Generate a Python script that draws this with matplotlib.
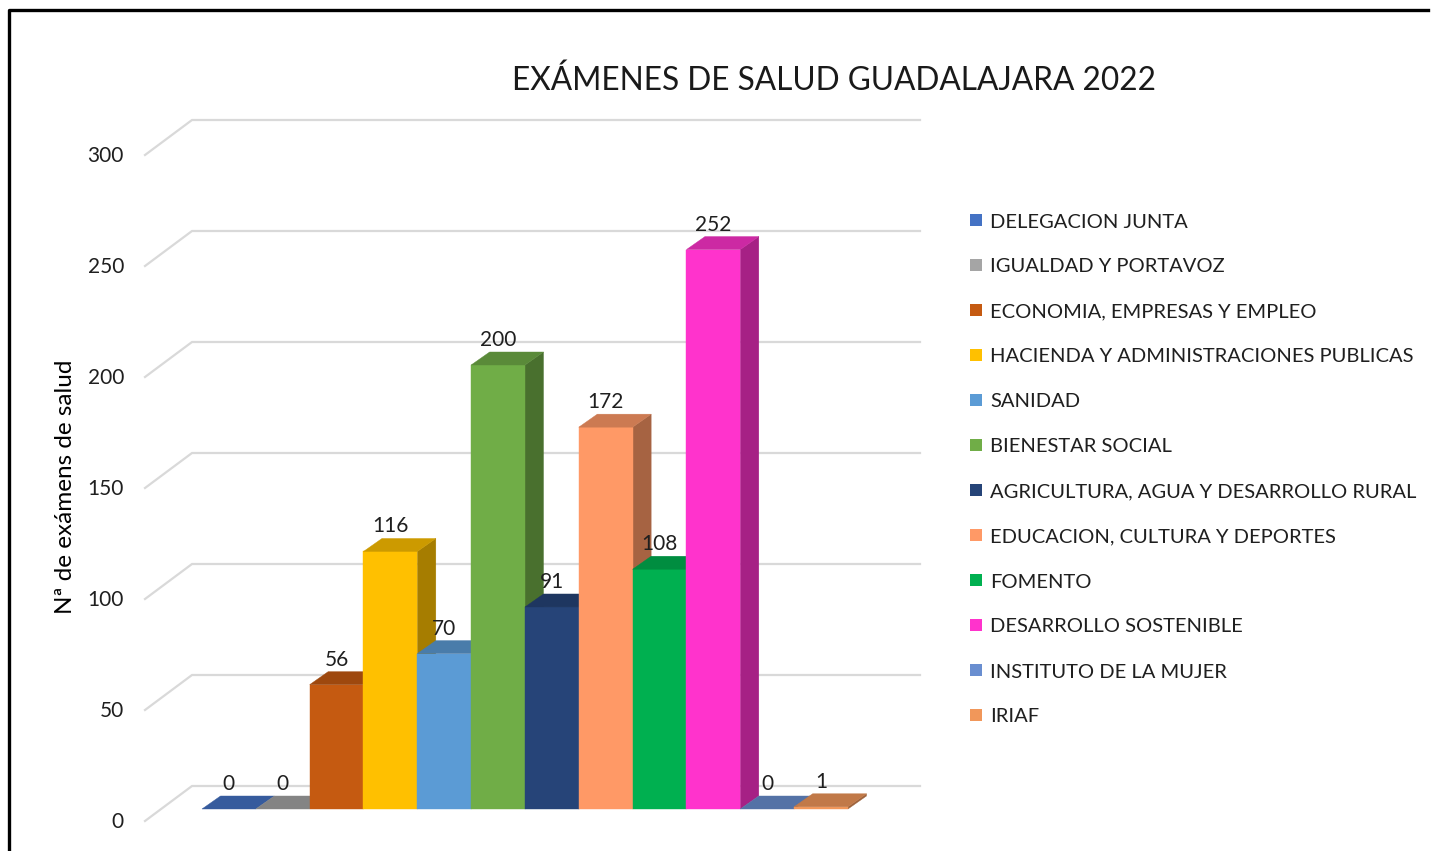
import matplotlib
matplotlib.use('Agg')
import matplotlib.pyplot as plt
from matplotlib.patches import Polygon, Rectangle
from matplotlib.lines import Line2D
import matplotlib.colors as mcolors
import numpy as np

plt.rcParams['font.family'] = ['Lato', 'DejaVu Sans']

# ---------------- data ----------------
title = 'EXÁMENES DE SALUD GUADALAJARA 2022'
ylabel = 'Nª de exámens de salud'
categories = [
    'DELEGACION JUNTA',
    'IGUALDAD Y PORTAVOZ',
    'ECONOMIA, EMPRESAS Y EMPLEO',
    'HACIENDA Y ADMINISTRACIONES PUBLICAS',
    'SANIDAD',
    'BIENESTAR SOCIAL',
    'AGRICULTURA, AGUA Y DESARROLLO RURAL',
    'EDUCACION, CULTURA Y DEPORTES',
    'FOMENTO',
    'DESARROLLO SOSTENIBLE',
    'INSTITUTO DE LA MUJER',
    'IRIAF',
]
values = [0, 0, 56, 116, 70, 200, 91, 172, 108, 252, 0, 1]
colors = ['#4472C4', '#A5A5A5', '#C55A11', '#FFC000', '#5B9BD5', '#70AD47',
          '#264478', '#FF9966', '#00B050', '#FF33CC', '#698ED0', '#F1975A']
yticks = [0, 50, 100, 150, 200, 250, 300]

# ---------------- layout (pixels) ----------------
W, H = 1431, 851
fig = plt.figure(figsize=(W / 100, H / 100), dpi=100)
ax = fig.add_axes([0, 0, 1, 1])
x0_px, cat_px = 202.0, 53.83      # front-left of first bar, width of a bar
base_px, unit_px = 809.0, 2.22    # front baseline, pixels per unit value
ax.set_xlim(-x0_px / cat_px, (W - x0_px) / cat_px)
ax.set_ylim((base_px - H) / unit_px, base_px / unit_px)
ax.axis('off')

# depth offsets in data units
bdx, bdy = 18.5 / cat_px, 13.0 / unit_px           # bar depth
floor_front_x, floor_front_dy = (145 - x0_px) / cat_px, -(821 - base_px) / unit_px
floor_back_x, floor_back_dy = (192 - x0_px) / cat_px, (base_px - 786) / unit_px
wall_end_x = (920 - x0_px) / cat_px

def shade(c, f):
    r, g, b = mcolors.to_rgb(c)
    return (r * f, g * f, b * f)

# gridlines (floor/back wall)
for v in yticks:
    ax.plot([floor_front_x, floor_back_x, wall_end_x],
            [v + floor_front_dy, v + floor_back_dy, v + floor_back_dy],
            color='#D9D9D9', lw=1.6, zorder=1, solid_joinstyle='miter')
    ax.text((124 - x0_px) / cat_px, v + floor_front_dy - 0.6, f'{v}',
            ha='right', va='center', fontsize=15, color='#1F1F1F')

# bars (painter's order left to right)
for i, (v, c) in enumerate(zip(values, colors)):
    x = i
    top_c = shade(c, 0.80)
    side_c = shade(c, 0.65)
    z = 2 + i * 0.01
    if v > 0:
        ax.add_patch(Polygon([(x + 1, 0), (x + 1 + bdx, bdy), (x + 1 + bdx, v + bdy), (x + 1, v)],
                             closed=True, facecolor=side_c, edgecolor=side_c, lw=0.3, zorder=z))
        ax.add_patch(Polygon([(x, 0), (x + 1, 0), (x + 1, v), (x, v)],
                             closed=True, facecolor=c, edgecolor=c, lw=0.3, zorder=z))
    ax.add_patch(Polygon([(x, v), (x + 1, v), (x + 1 + bdx, v + bdy), (x + bdx, v + bdy)],
                         closed=True, facecolor=top_c, edgecolor=top_c, lw=0.3, zorder=z + 0.001))
    ax.text(x + 0.5, v + bdy + 2.7, f'{v}', ha='center', va='baseline',
            fontsize=15, color='#1F1F1F', zorder=5)

# title and axis label
fig.text(834 / W, 1 - 81 / H, title, ha='center', va='center', fontsize=22.8, color='#1A1A1A')
fig.text(65 / W, 1 - 487 / H, ylabel, ha='center', va='center', rotation=90,
         fontsize=17.5, color='#000000')

# legend
for i, (lab, c) in enumerate(zip(categories, colors)):
    cy = 220 + 45 * i
    fig.patches.append(Rectangle((970 / W, 1 - (cy + 6) / H), 12 / W, 12 / H,
                                 transform=fig.transFigure, facecolor=c, edgecolor='none'))
    fig.text(990 / W, 1 - (cy + 7.5) / H, lab, ha='left', va='baseline',
             fontsize=14.5, color='#1F1F1F')

# chart border (cropped)
fig.add_artist(Line2D([9 / W, 9 / W, 1428 / W], [0, 1 - 10 / H, 1 - 10 / H],
                      transform=fig.transFigure, color='black', lw=2.4))

fig.savefig('out.png', dpi=100, facecolor='white')
